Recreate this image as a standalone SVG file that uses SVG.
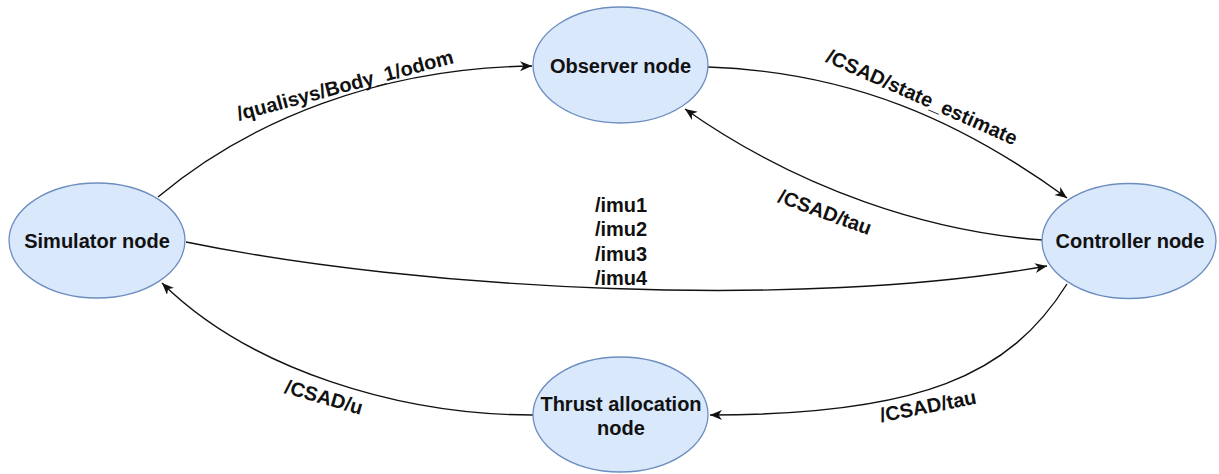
<svg xmlns="http://www.w3.org/2000/svg" width="1219" height="474" viewBox="0 0 1219 474">
  <style>
    .node ellipse { fill: #dae8fc; stroke: #6c8ebf; stroke-width: 1.3; }
    .node text, .label { font-family: "Liberation Sans", Arial, sans-serif; font-size: 20px; font-weight: bold; fill: #111; text-anchor: middle; }
    .edge { fill: none; stroke: #111; stroke-width: 1.4; marker-end: url(#arrow); }
  </style>
  <defs>
    <marker id="arrow" markerUnits="userSpaceOnUse" markerWidth="14" markerHeight="12" refX="12" refY="5" orient="auto">
      <path d="M0,0 L12,5 L0,10 L3.5,5 Z" fill="#111"/>
    </marker>
  </defs>
  <rect width="1219" height="474" fill="#fff"/>

  <g id="connectors">
    <path class="edge" d="M158 197 C250 120 380 68 532 66"/>
    <path class="edge" d="M708 67 C850 72 960 120 1067 198"/>
    <path class="edge" d="M1043 240 C930 232 800 190 685 109"/>
    <path class="edge" d="M186 242 C420 290 800 310 1047 266"/>
    <path class="edge" d="M1067 284 C1010 375 920 415 710 415"/>
    <path class="edge" d="M533 415 C400 415 250 370 162 283"/>

    <text class="label" transform="translate(345 85) rotate(-15)" y="7">/qualisys/Body_1/odom</text>
    <text class="label" transform="translate(922 97) rotate(24)" y="7">/CSAD/state_estimate</text>
    <text class="label" transform="translate(825 212) rotate(20)" y="7">/CSAD/tau</text>
    <text class="label" transform="translate(928 406) rotate(-11)" y="7">/CSAD/tau</text>
    <text class="label" transform="translate(324 397) rotate(16)" y="7">/CSAD/u</text>
    <text class="label" x="621" y="212">/imu1</text>
    <text class="label" x="621" y="236">/imu2</text>
    <text class="label" x="621" y="261">/imu3</text>
    <text class="label" x="621" y="285">/imu4</text>
  </g>

  <g id="observer" class="node">
    <ellipse cx="620.5" cy="65" rx="87.5" ry="58"/>
    <text x="620.5" y="73">Observer node</text>
  </g>
  <g id="simulator" class="node">
    <ellipse cx="97" cy="240.5" rx="88" ry="57.5"/>
    <text x="97" y="248">Simulator node</text>
  </g>
  <g id="controller" class="node">
    <ellipse cx="1129" cy="241" rx="87" ry="57.5"/>
    <text x="1130" y="248">Controller node</text>
  </g>
  <g id="thrust-allocation" class="node">
    <ellipse cx="620.5" cy="414.5" rx="87.5" ry="57.5"/>
    <text x="621" y="411">Thrust allocation</text>
    <text x="621" y="435">node</text>
  </g>
</svg>
